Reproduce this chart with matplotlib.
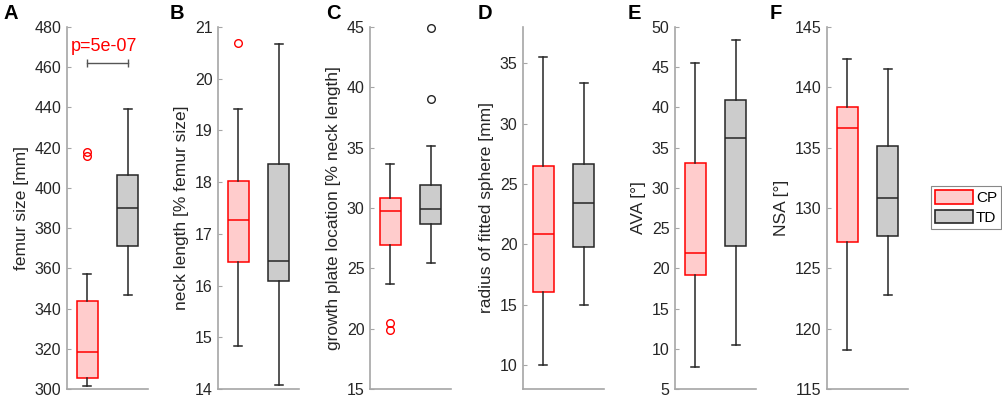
import numpy as np
import matplotlib
matplotlib.use("Agg")
import matplotlib.pyplot as plt
from matplotlib.patches import Patch

plt.rcParams['font.family'] = ['Liberation Sans', 'DejaVu Sans']

letters = ['A', 'B', 'C', 'D', 'E', 'F']
ylabels = ['femur size [mm]', 'neck length [% femur size]',
           'growth plate location [% neck length]', 'radius of fitted sphere [mm]',
           'AVA [°]', 'NSA [°]']
groups = ['CP', 'TD']

# CP (cerebral palsy) box statistics per panel
cp_low = [301.3, 14.84, 23.73, 10.0, 7.73, 118.23]
cp_q1 = [305.5, 16.45, 26.94, 16.0, 19.23, 127.22]
cp_med = [318.5, 17.26, 29.71, 20.86, 21.96, 136.65]
cp_q3 = [344.0, 18.02, 30.87, 26.52, 33.04, 138.38]
cp_high = [357.0, 19.42, 33.67, 35.5, 45.49, 142.33]
cp_out = [[416.0, 417.6], [20.70], [19.93, 20.43], [], [], []]

# TD (typically developing) box statistics per panel
td_low = [346.8, 14.08, 25.42, 14.94, 10.46, 122.75]
td_q1 = [371.1, 16.08, 28.71, 19.75, 22.79, 127.66]
td_med = [389.8, 16.47, 29.88, 23.4, 36.15, 130.86]
td_q3 = [406.5, 18.36, 31.9, 26.63, 40.98, 135.1]
td_high = [439.3, 20.68, 35.14, 33.34, 48.35, 141.5]
td_out = [[], [], [39.07, 44.94], [], [], []]

ylims = [(300, 480), (14, 21), (15, 45), (8, 38), (5, 50), (115, 145)]
ytick_sets = [np.arange(300, 481, 20), np.arange(14, 22, 1), np.arange(15, 46, 5),
              np.arange(10, 36, 5), np.arange(5, 51, 5), np.arange(115, 146, 5)]

pval_text = 'p=5e-07'
pval_y = 462

W, H = 1003, 398
fig = plt.figure(figsize=(W / 100, H / 100), dpi=100)

ax_left = [67, 218, 370, 523, 675, 827]
letter_x = [3, 170, 326, 478, 628, 770]
ax_w = 81
ax_top, ax_bot = 27, 389

red = '#ff0000'
pink = '#ffcccc'
grey = '#cccccc'
dark = '#262626'
spine = '#a6a6a6'

for i in range(6):
    ax = fig.add_axes([ax_left[i] / W, 1 - ax_bot / H, ax_w / W, (ax_bot - ax_top) / H])
    stats = [
        dict(whislo=cp_low[i], q1=cp_q1[i], med=cp_med[i], q3=cp_q3[i],
             whishi=cp_high[i], fliers=cp_out[i]),
        dict(whislo=td_low[i], q1=td_q1[i], med=td_med[i], q3=td_q3[i],
             whishi=td_high[i], fliers=td_out[i]),
    ]
    for j, (edge, face) in enumerate([(red, pink), (dark, grey)]):
        parts = ax.bxp([stats[j]], positions=[j + 1], widths=0.52, capwidths=0.2,
                       patch_artist=True, showfliers=True,
                       boxprops=dict(facecolor=face, edgecolor=edge, linewidth=1.1),
                       medianprops=dict(color=edge, linewidth=1.1),
                       whiskerprops=dict(color=dark, linewidth=1.1),
                       capprops=dict(color=dark, linewidth=1.1),
                       flierprops=dict(marker='o', markerfacecolor='none',
                                       markeredgecolor=edge, markersize=5.5,
                                       markeredgewidth=1.0))
        for fl in parts['fliers']:
            fl.set_clip_on(False)
    ax.set_xlim(0.5, 2.5)
    ax.set_ylim(*ylims[i])
    ax.set_yticks(ytick_sets[i])
    ax.set_xticks([])
    ax.set_ylabel(ylabels[i], fontsize=12.5, color=dark, labelpad=4)
    ax.tick_params(axis='y', direction='in', length=3, color=spine,
                   labelsize=11.5, labelcolor=dark, pad=4)
    for s in ['top', 'right']:
        ax.spines[s].set_visible(False)
    for s in ['left', 'bottom']:
        ax.spines[s].set_color(spine)
        ax.spines[s].set_linewidth(1.2)
    fig.text(letter_x[i] / W, 1 - 4 / H, letters[i], fontsize=14.5,
             fontweight='bold', va='top', ha='left')

    if i == 0:
        ax.plot([1, 2], [pval_y, pval_y], color='#555555', linewidth=1.0,
                marker='|', markersize=6, markeredgewidth=1.0)
        ax.text(1.42, pval_y + 4, pval_text, color=red, fontsize=13,
                ha='center', va='bottom')

handles = [Patch(facecolor=pink, edgecolor=red, linewidth=1.2, label=groups[0]),
           Patch(facecolor=grey, edgecolor=dark, linewidth=1.2, label=groups[1])]
leg = fig.legend(handles=handles, loc='center right',
                 bbox_to_anchor=(1001 / W, 1 - 207.5 / H), fontsize=11,
                 fancybox=False, framealpha=1, edgecolor='#888888',
                 handlelength=2.5, handleheight=1.0, handletextpad=0.2,
                 labelspacing=0.3, borderpad=0.25, borderaxespad=0)
leg.get_frame().set_linewidth(0.8)

fig.savefig('out.png', dpi=100)
